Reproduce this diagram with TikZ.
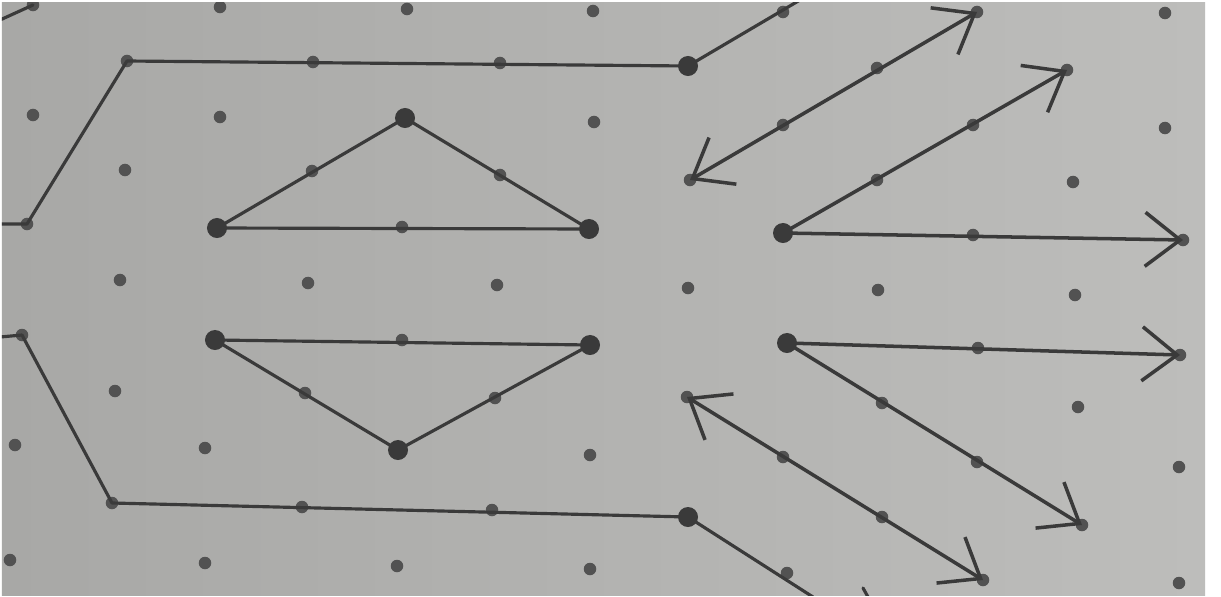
\documentclass[tikz,border=0pt]{standalone}
\usetikzlibrary{arrows.meta}
\definecolor{paperL}{HTML}{A8A8A6}
\definecolor{paperR}{HTML}{BDBDBB}
\definecolor{pencil}{HTML}{3A3A3A}
\definecolor{dotc}{HTML}{525252}
\begin{document}
\begin{tikzpicture}[x=0.01cm,y=-0.01cm,
  line/.style={draw=pencil, line width=0.9pt, line cap=round, line join=round},
  arr/.style={line, line width=1pt, -{Straight Barb[length=3.5mm,width=5.4mm]}},
  darr/.style={line, line width=1pt, {Straight Barb[length=3.5mm,width=5.4mm]}-{Straight Barb[length=3.5mm,width=5.4mm]}},
  gdot/.style={circle, fill=dotc, inner sep=0pt, minimum size=1.25mm},
  vdot/.style={circle, fill=pencil, inner sep=0pt, minimum size=2mm}]
\useasboundingbox (0,0) rectangle (1221,597);
\fill[white] (0,0) rectangle (1221,597);
\shade[left color=paperL, right color=paperR] (2,3) rectangle (1205,595);
\begin{scope}
\clip (2,3) rectangle (1205,595);
% lattice dots
\foreach \x/\y [count=\i] in {
  33/5, 220/7, 407/9, 593/11, 783/12, 977/12, 1165/13,
  127/61, 313/62, 500/63, 877/68, 1067/70,
  33/115, 220/117, 594/122, 783/125, 973/125, 1165/128,
  125/170, 312/171, 500/175, 690/180, 877/180, 1073/182,
  27/224, 402/227, 973/235, 1183/240,
  120/280, 308/283, 497/285, 688/288, 878/290, 1075/295,
  22/335, 402/340, 978/348, 1180/355,
  115/391, 305/393, 495/398, 687/397, 882/403, 1078/407,
  15/445, 205/448, 590/455, 783/457, 977/462, 1179/467,
  112/503, 302/507, 492/510, 882/517, 1082/525,
  10/560, 205/563, 397/566, 590/569, 787/573, 983/580, 1179/583}
  \node[gdot] (d\i) at (\x,\y) {};
% vertex dots
\node[vdot] (t1) at (217,228) {};
\node[vdot] (t2) at (405,118) {};
\node[vdot] (t3) at (589,229) {};
\node[vdot] (u1) at (215,340) {};
\node[vdot] (u2) at (590,345) {};
\node[vdot] (u3) at (398,450) {};
\node[vdot] (p1) at (688,66) {};
\node[vdot] (p2) at (688,517) {};
\node[vdot] (c1) at (783,233) {};
\node[vdot] (c2) at (787,343) {};
% free ends at the paper edges
\coordinate (eTL) at (0,20);
\coordinate (eL1) at (0,224);
\coordinate (eT1) at (800,0);
\coordinate (eL2) at (0,337);
\coordinate (eB1) at (813,597);
\coordinate (m1) at (863,588);
\coordinate (m2) at (868,597);
% polylines
\draw[line] (eTL) -- (d1.center);
\draw[line] (eL1) -- (d25.center) -- (d8.center) -- (p1.center) -- (eT1);
\draw[line] (eL2) -- (d35.center) -- (d51.center) -- (p2.center) -- (eB1);
\draw[line] (m1) -- (m2);
% triangles
\draw[line] (t1.center) -- (t2.center) -- (t3.center) -- cycle;
\draw[line] (u1.center) -- (u2.center) -- (u3.center) -- cycle;
% arrows
\draw[darr] (d22.center) -- (d6.center);
\draw[arr] (c1.center) -- (d12.center);
\draw[arr] (c1.center) -- (d28.center);
\draw[arr] (c2.center) -- (d38.center);
\draw[arr] (c2.center) -- (d55.center);
\draw[darr] (d42.center) -- (d61.center);
\end{scope}
\end{tikzpicture}
\end{document}
